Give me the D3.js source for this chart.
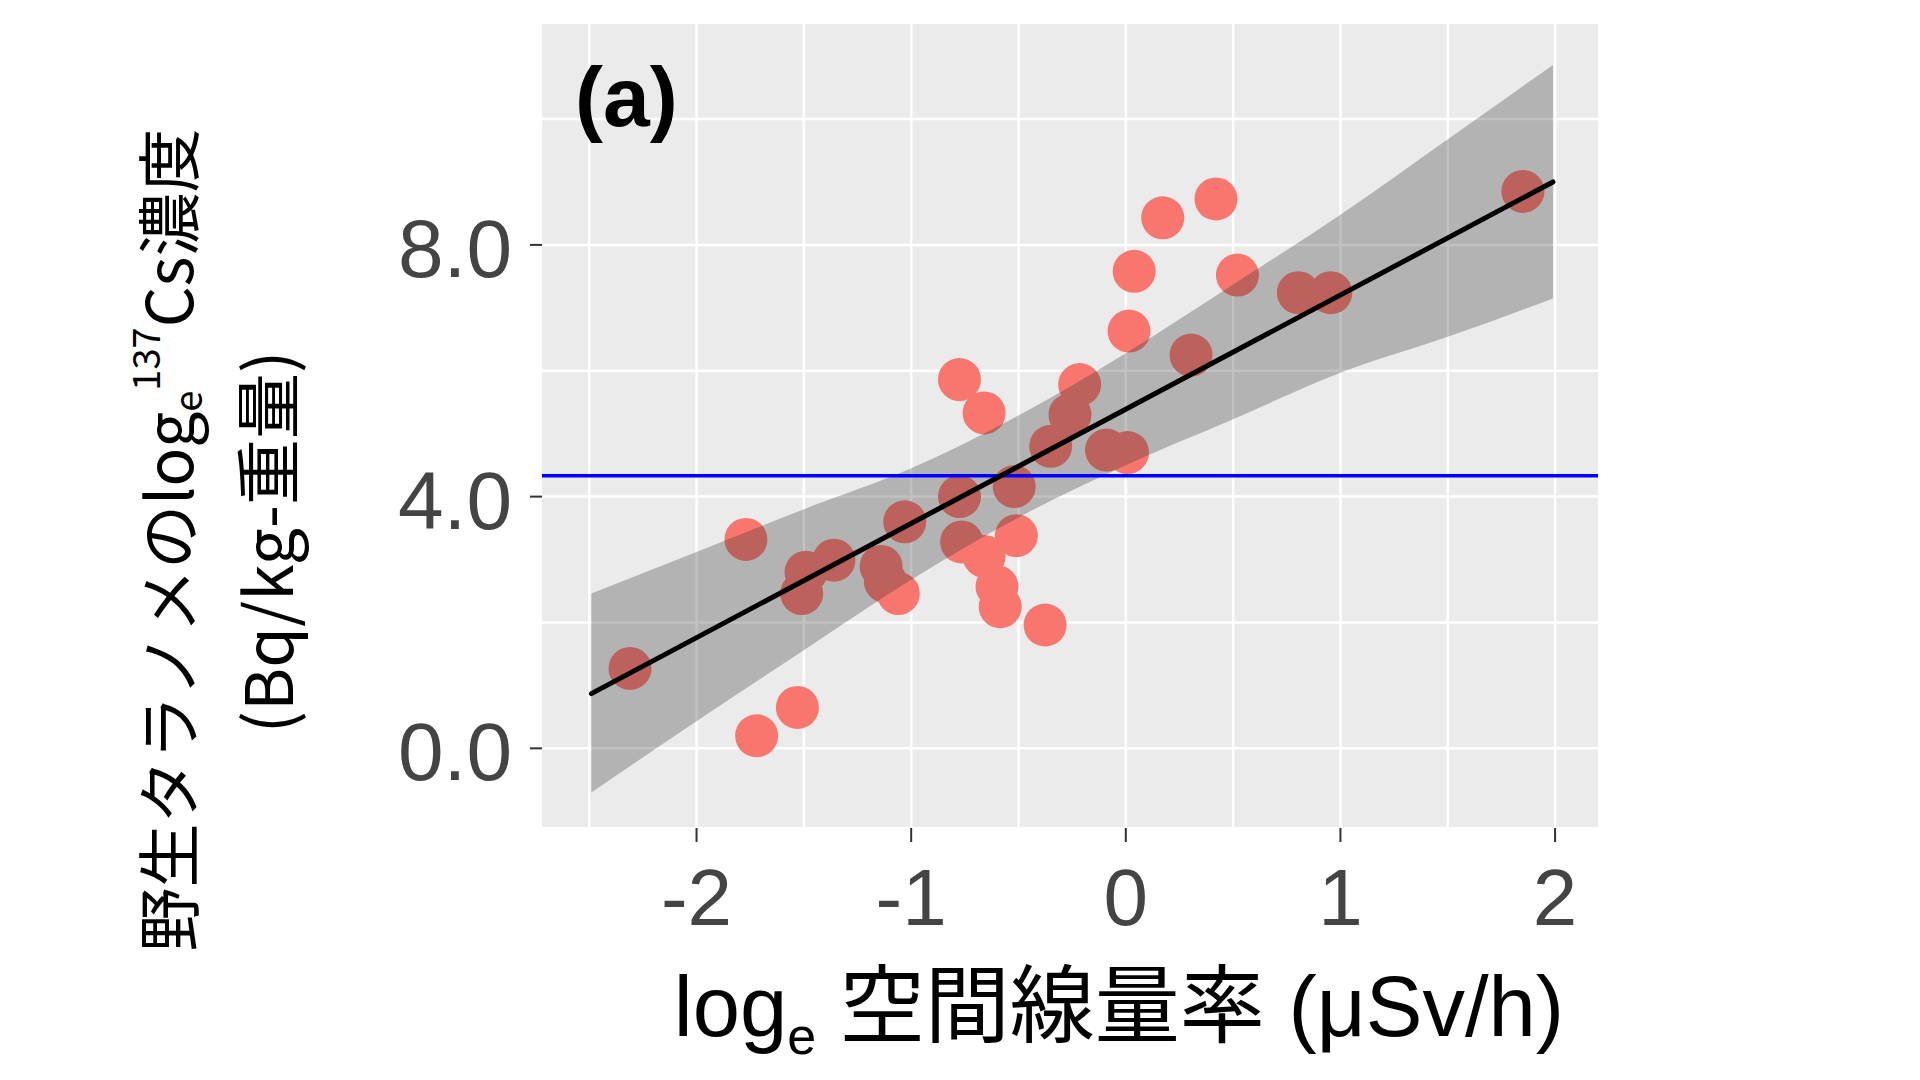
<!DOCTYPE html>
<html>
<head>
<meta charset="utf-8">
<script src="https://cdn.jsdelivr.net/npm/d3@7"></script>
<style>
  body { margin: 0; background: #ffffff; }
</style>
</head>
<body>
<div id="graphicContainer"></div>
<script>
// values (loge dose rate vs loge 137Cs)
var doseRate = [-2.31, -1.77, -1.72, -1.53, -1.51, -1.49, -1.36, -1.14, -1.12, -1.06, -1.03,
                -0.775, -0.775, -0.765, -0.66, -0.66, -0.60, -0.585, -0.52, -0.51, -0.376,
                -0.35, -0.26, -0.215, -0.09, 0.008, 0.015, 0.039, 0.172, 0.304, 0.42, 0.52,
                0.804, 0.955, 1.85];
var csConc = [1.27, 3.32, 0.20, 0.65, 2.46, 2.80, 2.99, 2.89, 2.65, 2.46, 3.60,
              5.86, 4.00, 3.28, 5.33, 3.05, 2.57, 2.25, 4.16, 3.38, 1.96,
              4.80, 5.30, 5.78, 4.74, 4.70, 6.63, 7.58, 8.43, 6.25, 8.73, 7.52,
              7.24, 7.24, 8.85];

// fitted line and its confidence band, read at a few x positions
var fitX = [-2.49, 1.99];
var fitY = [0.87, 9.0];
var bandX = [-2.49, -2, -1.5, -1, -0.5, 0, 0.5, 1, 1.5, 1.99];
var bandLow = [-0.70, 0.43, 1.56, 2.68, 3.67, 4.50, 5.23, 5.97, 6.54, 7.15];
var bandHigh = [2.46, 3.12, 3.80, 4.45, 5.29, 6.28, 7.37, 8.48, 9.68, 10.86];

var refLevel = 4.33;

var xTicks = [-2, -1, 0, 1, 2];
var xMinor = [-2.5, -1.5, -0.5, 0.5, 1.5];
var yTicks = [0, 4, 8];
var yMinor = [2, 6, 10];
var yTickLabels = ["0.0", "4.0", "8.0"];

var width = 1920, height = 1080;
var panel = {left: 542, right: 1598, top: 24, bottom: 827};

var svg = d3.select("#graphicContainer").append("svg")
    .attr("width", width)
    .attr("height", height)
    .style("display", "block");

var x = d3.scaleLinear().domain([-2.72, 2.2]).range([panel.left, panel.right]);
var y = d3.scaleLinear().domain([-1.25, 11.51]).range([panel.bottom, panel.top]);

svg.append("rect")
    .attr("x", panel.left)
    .attr("y", panel.top)
    .attr("width", panel.right - panel.left)
    .attr("height", panel.bottom - panel.top)
    .attr("fill", "#ebebeb");

// grid
var grid = svg.append("g").attr("stroke", "#ffffff");

grid.selectAll(".vx")
    .data(xMinor.concat(xTicks))
    .enter().append("line")
    .attr("x1", d => x(d)).attr("x2", d => x(d))
    .attr("y1", panel.top).attr("y2", panel.bottom)
    .attr("stroke-width", 2.5);

grid.selectAll(".hy")
    .data(yMinor.concat(yTicks))
    .enter().append("line")
    .attr("x1", panel.left).attr("x2", panel.right)
    .attr("y1", d => y(d)).attr("y2", d => y(d))
    .attr("stroke-width", 2.5);

// points
svg.append("g")
    .selectAll("circle")
    .data(doseRate)
    .enter().append("circle")
    .attr("cx", d => x(d))
    .attr("cy", (d, i) => y(csConc[i]))
    .attr("r", 21.5)
    .attr("fill", "#f8766d");

// confidence band
var band = d3.area()
    .x((d, i) => x(bandX[i]))
    .y0((d, i) => y(bandLow[i]))
    .y1((d, i) => y(bandHigh[i]))
    .curve(d3.curveMonotoneX);

svg.append("path")
    .datum(bandX)
    .attr("d", band)
    .attr("fill", "#333333")
    .attr("fill-opacity", 0.3);

// reference level
svg.append("line")
    .attr("x1", panel.left).attr("x2", panel.right)
    .attr("y1", y(refLevel)).attr("y2", y(refLevel))
    .attr("stroke", "#0000ff")
    .attr("stroke-width", 3.5);

// fitted line
svg.append("path")
    .datum(fitX)
    .attr("d", d3.line().x(d => x(d)).y((d, i) => y(fitY[i])))
    .attr("fill", "none")
    .attr("stroke", "#000000")
    .attr("stroke-width", 5)
    .attr("stroke-linecap", "round");

// ticks
svg.append("g").selectAll("line")
    .data(xTicks)
    .enter().append("line")
    .attr("x1", d => x(d)).attr("x2", d => x(d))
    .attr("y1", panel.bottom + 1).attr("y2", panel.bottom + 15)
    .attr("stroke", "#333333").attr("stroke-width", 2);

svg.append("g").selectAll("line")
    .data(yTicks)
    .enter().append("line")
    .attr("x1", panel.left - 12).attr("x2", panel.left)
    .attr("y1", d => y(d)).attr("y2", d => y(d))
    .attr("stroke", "#333333").attr("stroke-width", 2);

// tick labels
svg.append("g").selectAll("text")
    .data(xTicks)
    .enter().append("text")
    .attr("x", d => x(d))
    .attr("y", 925)
    .attr("text-anchor", "middle")
    .attr("font-family", "'Liberation Sans', Arial, sans-serif")
    .attr("font-size", 80)
    .attr("fill", "#444444")
    .text(d => d);

svg.append("g").selectAll("text")
    .data(yTicks)
    .enter().append("text")
    .attr("x", 512)
    .attr("y", d => y(d) + 32)
    .attr("text-anchor", "end")
    .attr("font-family", "'Liberation Sans', Arial, sans-serif")
    .attr("font-size", 82)
    .attr("fill", "#444444")
    .text((d, i) => yTickLabels[i]);

// panel tag
svg.append("text")
    .attr("x", 575)
    .attr("y", 126)
    .attr("font-family", "'Liberation Sans', Arial, sans-serif")
    .attr("font-weight", "bold")
    .attr("font-size", 84)
    .attr("fill", "#000000")
    .text("(a)");

// x title
var xt = svg.append("text")
    .attr("x", 1119)
    .attr("y", 1036)
    .attr("text-anchor", "middle")
    .attr("font-family", "'Liberation Sans', Arial, 'Noto Sans CJK JP', sans-serif")
    .attr("font-size", 85)
    .attr("fill", "#000000");
xt.append("tspan").text("log");
xt.append("tspan").attr("dy", 18).attr("font-size", 52).text("e");
xt.append("tspan").attr("dy", -18).text(" 空間線量率 (μSv/h)");

// y title, two lines
var yt1 = svg.append("text")
    .attr("transform", "translate(193,540) rotate(-90)")
    .attr("text-anchor", "middle")
    .attr("font-family", "'Noto Sans CJK JP', sans-serif")
    .attr("font-size", 64)
    .attr("fill", "#000000");
yt1.append("tspan").text("野生タラノメのlog");
yt1.append("tspan").attr("dy", 9).attr("font-size", 38).text("e");
yt1.append("tspan").attr("dy", -42).attr("font-size", 38).text("137");
yt1.append("tspan").attr("dy", 33).text("Cs濃度");

svg.append("text")
    .attr("transform", "translate(293,542) rotate(-90)")
    .attr("text-anchor", "middle")
    .attr("font-family", "'Noto Sans CJK JP', sans-serif")
    .attr("font-size", 66)
    .attr("fill", "#000000")
    .text("(Bq/kg-重量)");
</script>
</body>
</html>
